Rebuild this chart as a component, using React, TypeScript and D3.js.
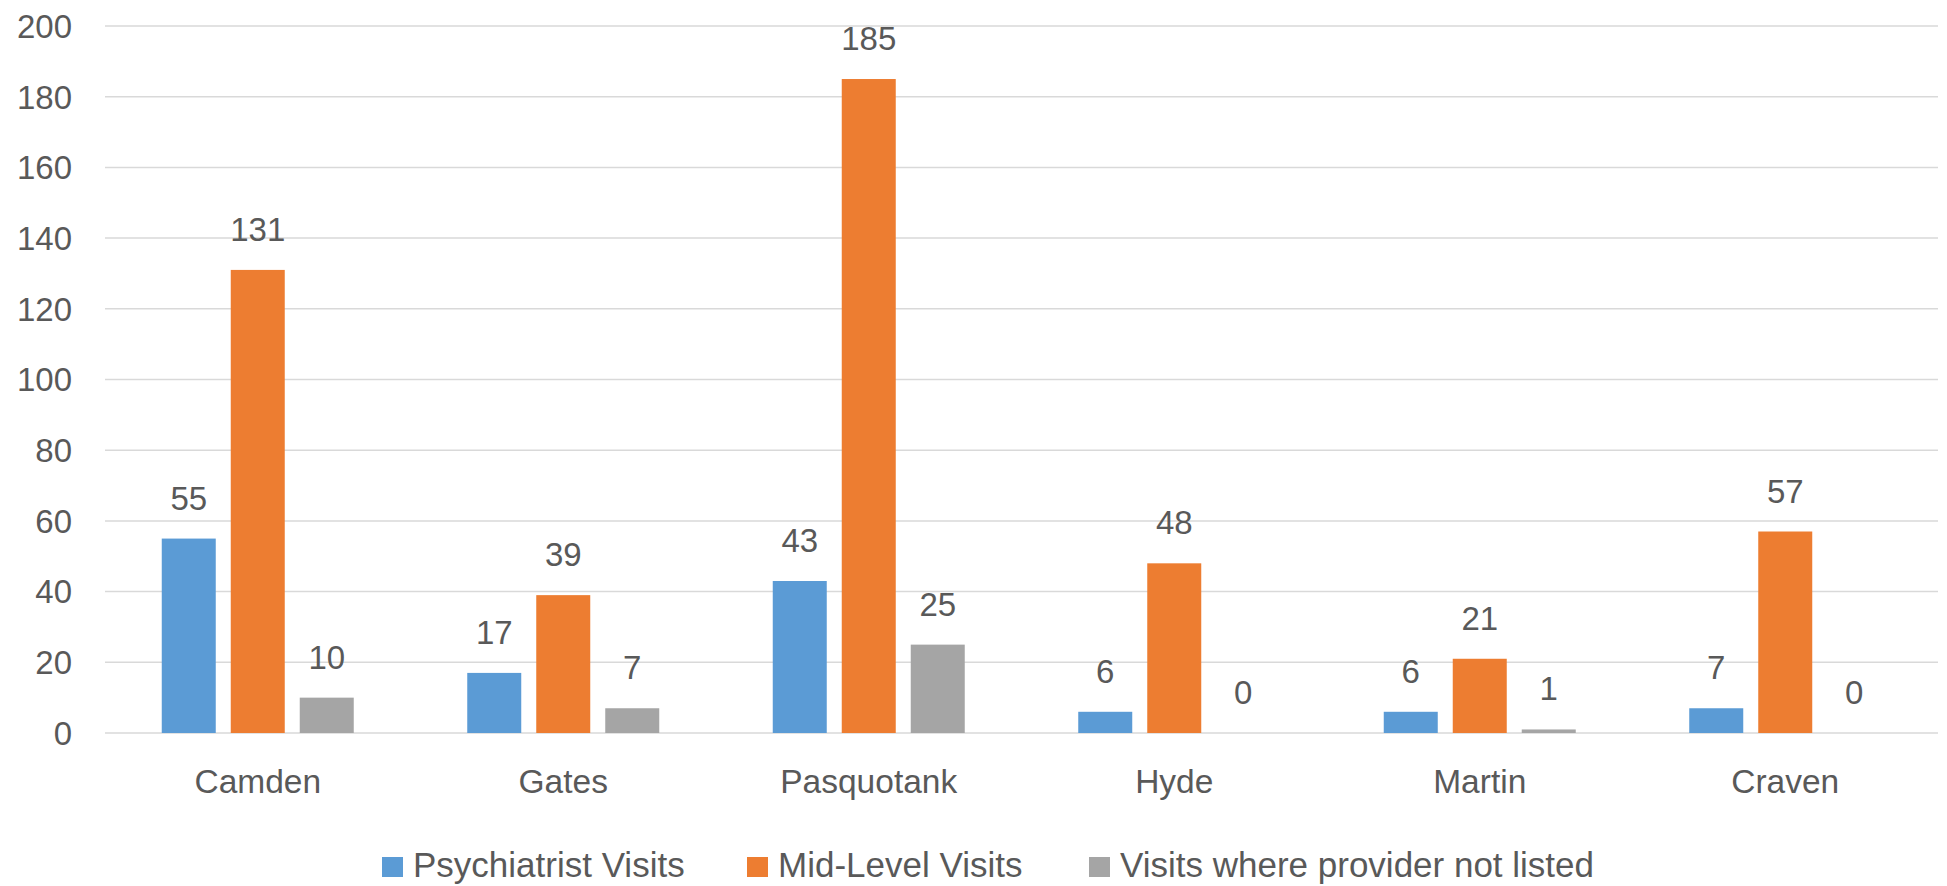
import React from 'react';
import * as d3 from 'd3';

const categories = ['Camden', 'Gates', 'Pasquotank', 'Hyde', 'Martin', 'Craven'];
const seriesNames = ['Psychiatrist Visits', 'Mid-Level Visits', 'Visits where provider not listed'];
const psychiatristVisits = [55, 17, 43, 6, 6, 7];
const midLevelVisits = [131, 39, 185, 48, 21, 57];
const notListedVisits = [10, 7, 25, 0, 1, 0];
const yTicks = [0, 20, 40, 60, 80, 100, 120, 140, 160, 180, 200];

const colors = ['#5B9BD5', '#ED7D31', '#A5A5A5'];
const width = 1947;
const height = 886;
const margin = { top: 26, right: 9, bottom: 153, left: 105 };
const font = '"Liberation Sans", Arial, sans-serif';
const textColor = '#595959';

// legend item x positions (square left edge)
const legendX = [382, 747, 1089];

export default function App() {
  const series = [psychiatristVisits, midLevelVisits, notListedVisits];

  const x = d3
    .scaleBand()
    .domain(categories)
    .range([margin.left, width - margin.right])
    .paddingInner(0)
    .paddingOuter(0);

  const xInner = d3
    .scaleBand()
    .domain(seriesNames)
    .range([0, x.bandwidth()])
    .paddingInner(0.2174)
    .paddingOuter(0.8225);

  const y = d3
    .scaleLinear()
    .domain([0, 200])
    .range([height - margin.bottom, margin.top]);

  return (
    <svg
      width={width}
      height={height}
      style={{ position: 'absolute', left: 0, top: 0, display: 'block', background: '#fff' }}
      fontFamily={font}
    >
      {/* gridlines + y labels */}
      {yTicks.map((t) => (
        <g key={t}>
          <line
            x1={margin.left}
            x2={width - margin.right}
            y1={y(t)}
            y2={y(t)}
            stroke="#d9d9d9"
            strokeWidth={1.5}
          />
          <text
            x={72}
            y={y(t)}
            dy="0.36em"
            textAnchor="end"
            fontSize={33}
            fill={textColor}
          >
            {t}
          </text>
        </g>
      ))}

      {/* bars */}
      {categories.map((c, i) => (
        <g key={c} transform={`translate(${x(c)},0)`}>
          {seriesNames.map((s, j) => {
            const v = series[j][i];
            const bx = xInner(s) as number;
            return (
              <g key={s}>
                <rect
                  x={bx}
                  y={y(v)}
                  width={xInner.bandwidth()}
                  height={y(0) - y(v)}
                  fill={colors[j]}
                />
                <text
                  x={bx + xInner.bandwidth() / 2}
                  y={y(v) - 29}
                  textAnchor="middle"
                  fontSize={33}
                  fill={textColor}
                >
                  {v}
                </text>
              </g>
            );
          })}
          <text
            x={x.bandwidth() / 2}
            y={793}
            textAnchor="middle"
            fontSize={33.5}
            fill={textColor}
          >
            {c}
          </text>
        </g>
      ))}

      {/* legend */}
      {seriesNames.map((s, j) => (
        <g key={s} transform={`translate(${legendX[j]},857)`}>
          <rect width={21} height={20} fill={colors[j]} />
          <text x={31} y={20} fontSize={35} fill={textColor}>
            {s}
          </text>
        </g>
      ))}
    </svg>
  );
}
